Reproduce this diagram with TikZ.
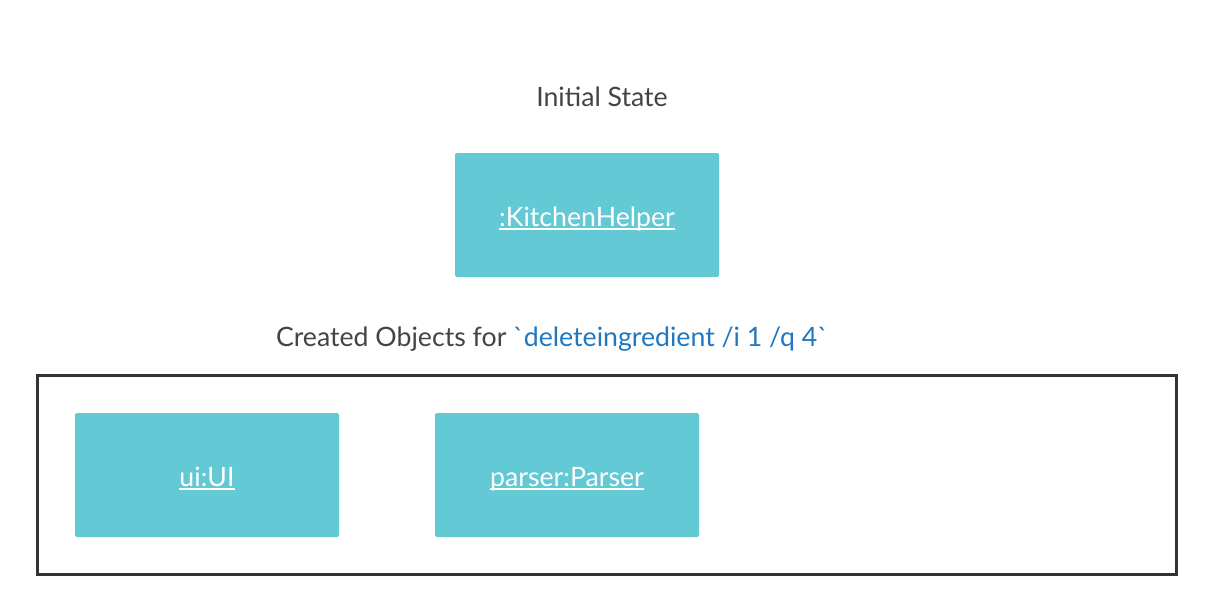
\documentclass[tikz,border=0pt]{standalone}
\usepackage{fontspec}
\setmainfont{Lato}
\definecolor{boxfill}{HTML}{63C9D5}
\definecolor{txtgray}{HTML}{444444}
\definecolor{cmdblue}{HTML}{1F78C1}
\definecolor{frame}{HTML}{333333}
\begin{document}
\begin{tikzpicture}[x=0.75pt,y=-0.75pt,
  objbox/.style={fill=boxfill, rounded corners=1.5pt, minimum width=198pt, minimum height=93pt, inner sep=0pt},
  objlabel/.style={text=white, font=\fontsize{20}{24}\selectfont, inner sep=0pt, anchor=base},
  uline/.style={white, line width=1.4pt},
  title/.style={text=txtgray, font=\fontsize{20}{24}\selectfont, inner sep=0pt, anchor=base}]
\useasboundingbox (0,0) rectangle (1212,611);
\node[title] (init) at (602,106) {Initial State};
\node[objbox] (kh) at (587,215) {};
\node[objlabel] (khl) at (587,226) {:KitchenHelper};
\draw[uline] ([yshift=-2.4pt]khl.base west) -- ([yshift=-2.4pt]khl.base east);
\node[title] (created) at (552,346) {Created Objects for \textcolor{cmdblue}{\textasciigrave deleteingredient /i 1 /q 4\textasciigrave}};
\draw[frame, line width=2.6pt] (37.5,375.5) rectangle (1176.5,574.5);
\node[objbox] (ui) at (207,475) {};
\node[objlabel] (uil) at (207,486) {ui:UI};
\draw[uline] ([yshift=-2.4pt]uil.base west) -- ([yshift=-2.4pt]uil.base east);
\node[objbox] (parser) at (567,475) {};
\node[objlabel] (parserl) at (567,486) {parser:Parser};
\draw[uline] ([yshift=-2.4pt]parserl.base west) -- ([yshift=-2.4pt]parserl.base east);
\end{tikzpicture}
\end{document}
